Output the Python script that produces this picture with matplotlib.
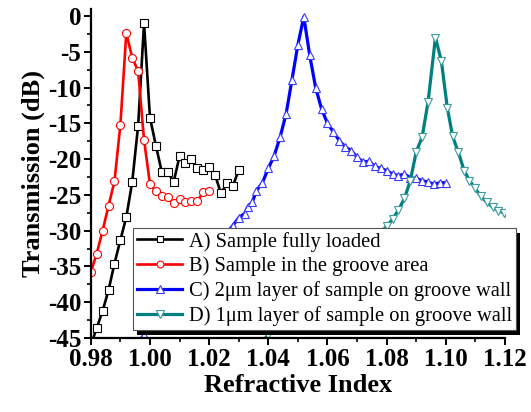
import matplotlib
matplotlib.use("Agg")
import matplotlib.pyplot as plt
from matplotlib.patches import Rectangle
from matplotlib.ticker import MultipleLocator
from matplotlib.transforms import IdentityTransform

plt.rcParams['axes.unicode_minus'] = False

# Series A: sample fully loaded
xa = [0.980, 0.982, 0.984, 0.986, 0.988, 0.990, 0.992, 0.994, 0.996, 0.998,
      1.000, 1.002, 1.004, 1.006, 1.008, 1.010, 1.012, 1.014, 1.016, 1.018,
      1.020, 1.022, 1.024, 1.026, 1.028, 1.030]
ya = [-46.0, -43.6, -41.2, -38.3, -34.6, -31.3, -28.1, -23.2, -15.3, -1.0,
      -14.2, -18.1, -21.8, -21.8, -23.2, -19.6, -20.5, -20.0, -21.3, -21.5,
      -21.1, -22.2, -24.8, -23.4, -23.8, -21.5]

# Series B: sample in the groove area
xb = [0.980, 0.982, 0.984, 0.986, 0.988, 0.990, 0.992, 0.994, 0.996, 0.998,
      1.000, 1.002, 1.004, 1.006, 1.008, 1.010, 1.012, 1.014, 1.016, 1.018, 1.020]
yb = [-35.8, -33.2, -30.0, -26.5, -23.1, -15.2, -2.4, -5.8, -7.7, -17.3,
      -23.5, -24.5, -25.1, -25.3, -26.1, -25.6, -26.0, -25.9, -25.9, -24.6, -24.5]

# Series C: 2um layer on groove wall
xc = [0.996, 0.998, 1.000, 1.002, 1.004, 1.006, 1.008, 1.010, 1.012, 1.014,
      1.016, 1.018, 1.020, 1.022, 1.024, 1.026, 1.028, 1.030, 1.032, 1.033,
      1.0346, 1.036, 1.038, 1.040, 1.042, 1.044, 1.046, 1.048, 1.050, 1.052,
      1.054, 1.056, 1.058, 1.060, 1.062, 1.064, 1.066, 1.068, 1.070, 1.072,
      1.074, 1.076, 1.078, 1.080, 1.082, 1.084, 1.086, 1.088, 1.090, 1.092,
      1.094, 1.096, 1.098, 1.100]
yc = [-45.5, -44.6, -43.6, -42.5, -41.4, -40.3, -39.2, -38.1, -37.0, -36.0,
      -35.0, -34.0, -33.1, -32.1, -31.1, -30.3, -29.3, -28.2, -27.6, -26.7,
      -26.0, -24.4, -23.3, -21.3, -19.5, -16.9, -13.7, -8.9, -4.0, -0.1,
      -5.5, -10.0, -13.0, -15.0, -16.2, -17.4, -18.3, -18.8, -19.7, -20.4,
      -20.3, -21.0, -21.3, -21.6, -22.1, -22.3, -22.1, -22.6, -22.7, -23.0,
      -23.2, -23.5, -23.3, -23.3]

# Series D: 1um layer on groove wall
xd = [1.038, 1.040, 1.042, 1.044, 1.046, 1.048, 1.050, 1.052, 1.054, 1.056,
      1.058, 1.060, 1.062, 1.064, 1.066, 1.068, 1.070, 1.072, 1.074, 1.076,
      1.078, 1.080, 1.082, 1.084, 1.086, 1.088, 1.090, 1.092, 1.094, 1.0965,
      1.0985, 1.1005, 1.1023, 1.1042, 1.1062, 1.1080, 1.1098, 1.1118, 1.1138,
      1.1158, 1.1177, 1.1195, 1.1215]
yd = [-45.4, -44.6, -43.9, -43.1, -42.4, -41.6, -40.9, -40.1, -39.4, -38.6,
      -37.9, -37.1, -36.4, -35.6, -34.9, -34.1, -33.4, -32.6, -31.8, -31.0,
      -30.2, -29.4, -28.4, -27.1, -25.5, -23.0, -19.0, -16.9, -12.0, -3.0,
      -6.3, -12.8, -16.8, -19.0, -21.6, -23.0, -24.0, -25.2, -26.0, -26.7,
      -27.2, -27.5, -28.5]

labels = ["A) Sample fully loaded",
          "B) Sample in the groove area",
          "C) 2\u03bcm layer of sample on groove wall",
          "D) 1\u03bcm layer of sample on groove wall"]
xticks = [0.98, 1.00, 1.02, 1.04, 1.06, 1.08, 1.10, 1.12]
yticks = [0, -5, -10, -15, -20, -25, -30, -35, -40, -45]

W, H = 531, 412
fig = plt.figure(figsize=(W / 100, H / 100), dpi=100)
ax = fig.add_axes([0.171, 0.1796, 0.780, 0.7988])

serif = 'Liberation Serif'
ax.plot(xa, ya, color='black', lw=1.9, marker='s', ms=5.2, mfc='white',
        mec='black', mew=0.8, label=labels[0])
ax.plot(xb, yb, color='red', lw=1.9, marker='o', ms=5.8, mfc='white',
        mec='red', mew=0.8, label=labels[1])
ax.plot(xc, yc, color='#0000ff', lw=2.3, marker='^', ms=6.2, mfc='white',
        mec='#3a3aff', mew=0.8, label=labels[2])
ax.plot(xd, yd, color='#008080', lw=2.3, marker='v', ms=6.2, mfc='white',
        mec='#3a9c9c', mew=0.8, label=labels[3])

ax.set_xlim(0.98, 1.12)
ax.set_ylim(-45, 1)
ax.set_xticks(xticks)
ax.set_xticklabels([f"{v:.2f}" for v in xticks])
ax.set_yticks(yticks)
ax.set_yticklabels([str(v) for v in yticks])
ax.xaxis.set_minor_locator(MultipleLocator(0.01))
ax.yaxis.set_minor_locator(MultipleLocator(2.5))

for s in ['top', 'right']:
    ax.spines[s].set_visible(False)
for s in ['left', 'bottom']:
    ax.spines[s].set_linewidth(1.6)

ax.tick_params(which='major', direction='out', length=5, width=1.4, pad=2)
ax.tick_params(which='minor', direction='out', length=3, width=1.2)
for lab in ax.get_xticklabels() + ax.get_yticklabels():
    lab.set_fontfamily(serif)
    lab.set_fontweight('bold')
    lab.set_fontsize(18)

ax.set_xlabel("Refractive Index", fontfamily=serif, fontweight='bold',
              fontsize=19, labelpad=2)
ax.set_ylabel("Transmission (dB)", fontfamily=serif, fontweight='bold',
              fontsize=19, labelpad=2)

leg = ax.legend(loc='lower left', bbox_to_anchor=(0.102, 0.024),
                borderaxespad=0, prop={'family': serif, 'size': 14.8},
                frameon=True, fancybox=False, shadow=False,
                handlelength=2.2, handletextpad=0.3, labelspacing=0.24,
                borderpad=0.2, markerscale=0.85)
leg.get_frame().set_edgecolor('#555555')
leg.get_frame().set_linewidth(0.8)
leg.get_frame().set_alpha(None)
leg.get_frame().set_facecolor('white')
leg.set_zorder(10)

fig.canvas.draw()
bb = leg.get_window_extent()
shadow = Rectangle((bb.x0 + 4, bb.y0 - 5), bb.width, bb.height,
                   transform=IdentityTransform(), facecolor='black',
                   edgecolor='none', zorder=9.5, clip_on=False)
ax.add_artist(shadow)

fig.savefig("out.png", dpi=100)
